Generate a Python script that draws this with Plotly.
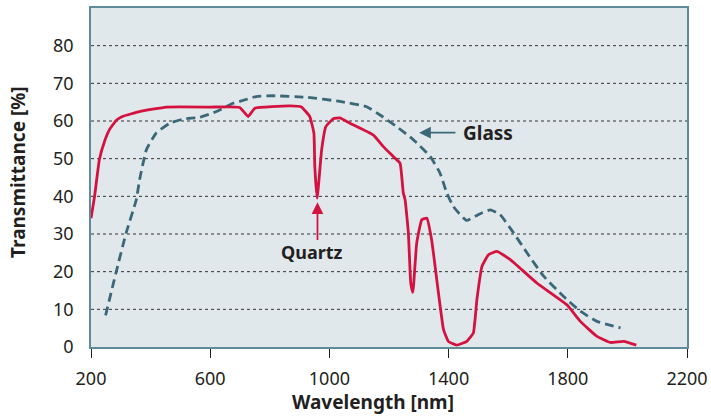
import plotly.graph_objects as go

# Quartz transmittance (red solid)
quartz_nm = [200, 212, 228, 245, 262, 285, 305, 363, 453, 600, 699, 727, 750, 867, 906, 934, 948, 951,
             959, 974, 988, 1013, 1035, 1069, 1147, 1181, 1214, 1237, 1248, 1254, 1265, 1273,
             1280, 1293, 1310, 1327, 1343, 1366, 1383, 1399, 1427, 1461, 1483, 1495, 1512,
             1534, 1562, 1607, 1696, 1797, 1842, 1898, 1943, 1988, 2030]
quartz_t = [34.2, 40, 49.7, 54.5, 57.7, 60.2, 61.2, 62.5, 63.7, 63.7, 63.6, 61.2, 63.4, 64, 63.7, 61.2, 56.8, 47.9,
            39.5, 52.4, 58.5, 60.6, 60.8, 59.4, 56.3, 53.2, 50.6, 48.8, 40.9, 39.1, 30.3, 17,
            14.5, 27.6, 33.8, 34.2, 28.5, 14.3, 4.6, 1.5, 0.5, 1.5, 3.7, 12.6, 21.4,
            24.5, 25.4, 23.2, 17, 11.2, 6.8, 2.8, 1.2, 1.5, 0.5]

# Glass transmittance (teal dashed)
glass_nm = [249, 285, 318, 352, 363, 386, 419, 464, 509, 565, 621, 677, 699, 755, 811, 923,
            1035, 1125, 1170, 1226, 1282, 1338, 1371, 1394, 1416, 1460, 1506, 1540, 1573,
            1618, 1663, 1719, 1786, 1842, 1898, 1977]
glass_t = [8.4, 20.1, 30.3, 39.1, 44.4, 52.4, 56.8, 59.4, 60.5, 61, 62.5, 64.7, 65.2, 66.5, 66.7, 66.3,
           65.2, 63.8, 61.6, 58.5, 55, 50.6, 46.2, 40.9, 37.3, 33.6, 35.4, 36.4, 35.1,
           30.3, 25, 18.8, 13.4, 9.5, 6.8, 5.1]

x_ticks = [200, 600, 1000, 1400, 1800, 2200]
y_ticks = [0, 10, 20, 30, 40, 50, 60, 70, 80]

RED = "#d41240"
TEAL = "#3b6878"
TXT = "#231f20"
FONT = "Noto Sans"

W, H = 711, 416
L, R, T, B = 91, 24, 8, 69
pw, ph = W - L - R, H - T - B

fig = go.Figure()
fig.add_trace(go.Scatter(x=glass_nm, y=glass_t, mode="lines",
                         line=dict(color=TEAL, width=2.8, dash="9px,5px", shape="spline", smoothing=0.4),
                         hoverinfo="skip"))
fig.add_trace(go.Scatter(x=quartz_nm, y=quartz_t, mode="lines",
                         line=dict(color=RED, width=2.8, shape="spline", smoothing=0.35),
                         hoverinfo="skip"))

# horizontal dotted gridlines (10..80)
for v in y_ticks[1:]:
    fig.add_shape(type="line", xref="paper", x0=0, x1=1, yref="y", y0=v, y1=v,
                  line=dict(color="#333333", width=1, dash="dot"), layer="below")

fig.add_annotation(x=1301, y=56.9, ax=1428, ay=56.9, xref="x", yref="y", axref="x", ayref="y",
                   text="", showarrow=True, arrowhead=2, arrowsize=1.3, arrowwidth=1.8,
                   arrowcolor=TEAL)
fig.add_annotation(x=1443, y=56.9, xref="x", yref="y", text="<b>Glass</b>", showarrow=False,
                   xanchor="left", yanchor="middle", font=dict(size=19, color=TXT, family=FONT))
fig.add_annotation(x=960, y=38.4, ax=960, ay=28.0, xref="x", yref="y", axref="x", ayref="y",
                   text="", showarrow=True, arrowhead=2, arrowsize=1.3, arrowwidth=1.8,
                   arrowcolor=RED)
fig.add_annotation(x=940, y=25.3, xref="x", yref="y", text="<b>Quartz</b>", showarrow=False,
                   xanchor="center", yanchor="middle", font=dict(size=18, color=TXT, family=FONT))

# axis titles (positioned in pixels, converted to paper coordinates)
fig.add_annotation(x=(373 - L) / pw, y=(H - 402 - B) / ph, xref="paper", yref="paper",
                   xanchor="center", yanchor="middle",
                   text="<b>Wavelength [nm]</b>", showarrow=False,
                   font=dict(size=19, color=TXT, family=FONT))
fig.add_annotation(x=(18 - L) / pw, y=(H - 172 - B) / ph, xref="paper", yref="paper",
                   xanchor="center", yanchor="middle",
                   text="<b>Transmittance [%]</b>", textangle=-90, showarrow=False,
                   font=dict(size=19, color=TXT, family=FONT))

fig.update_layout(
    width=W, height=H,
    margin=dict(l=L, r=R, t=T, b=B),
    paper_bgcolor="white", plot_bgcolor="#e1e8ec",
    showlegend=False,
    font=dict(family=FONT, color=TXT, size=18),
    xaxis=dict(range=[200, 2200], tickvals=x_ticks, ticktext=[str(v) for v in x_ticks],
               showgrid=False, zeroline=False, showline=True, linecolor="#5f8a98", linewidth=1.5,
               mirror=True, ticks="outside", ticklen=9, tickcolor=TXT, tickwidth=1.2,
               ticklabelstandoff=6, automargin=False,
               tickfont=dict(size=18, color=TXT, family=FONT)),
    yaxis=dict(range=[0, 90], tickvals=y_ticks, ticktext=[str(v) for v in y_ticks],
               showgrid=False, zeroline=False, showline=True, linecolor="#5f8a98", linewidth=1.5,
               mirror=True, ticks="", ticklabelstandoff=12, automargin=False,
               tickfont=dict(size=18, color=TXT, family=FONT)),
)

fig.write_html("out.html", config={"displayModeBar": False},
               post_script="document.body.style.margin='0';")
